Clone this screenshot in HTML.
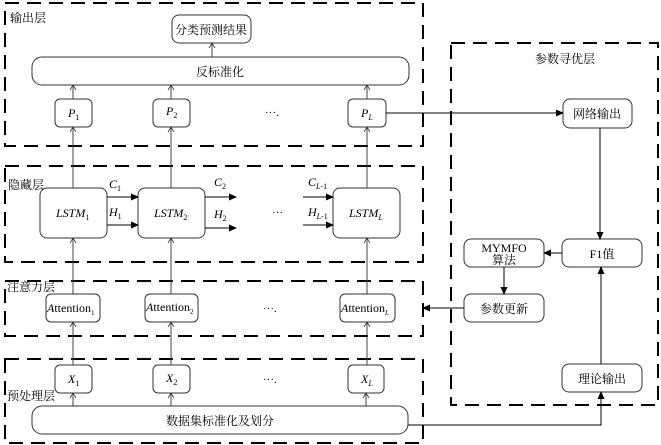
<!DOCTYPE html>
<html><head><meta charset="utf-8"><style>body{margin:0;background:#fff}svg{display:block}text{font-family:"Liberation Serif","Noto Serif CJK SC",serif;fill:#000}</style></head><body>
<svg width="661" height="445" viewBox="0 0 661 445" xmlns="http://www.w3.org/2000/svg">
<defs>
<marker id="a" markerWidth="8" markerHeight="8" refX="7" refY="4" orient="auto" markerUnits="userSpaceOnUse"><path d="M0,0.5 L8,4 L0,7.5z" fill="#000"/></marker>
<marker id="t" markerWidth="8" markerHeight="8" refX="6" refY="4" orient="auto" markerUnits="userSpaceOnUse"><path d="M1,1 L6,4 L1,7" fill="none" stroke="#333" stroke-width="0.8"/></marker>
</defs>
<g fill="none" stroke="#000" stroke-width="2" stroke-dasharray="14,8">
<rect x="5" y="3" width="418" height="143"/>
<rect x="5" y="166" width="418" height="96"/>
<rect x="5" y="281" width="418" height="55"/>
<rect x="5" y="359" width="418" height="84"/>
<rect x="451" y="43" width="207" height="362"/>
</g>
<g fill="#fff" stroke="#333" stroke-width="1">
<rect x="172" y="15" width="79" height="28" rx="7"/>
<rect x="32" y="57" width="377" height="28" rx="10"/>
<rect x="55" y="99" width="37" height="28" rx="5"/>
<rect x="153" y="99" width="37" height="28" rx="5"/>
<rect x="348" y="99" width="38" height="28" rx="5"/>
<rect x="40" y="188" width="67" height="50" rx="7"/>
<rect x="138" y="188" width="67" height="50" rx="7"/>
<rect x="333" y="188" width="67" height="50" rx="7"/>
<rect x="46" y="294" width="54" height="28" rx="5"/>
<rect x="145" y="294" width="53" height="28" rx="5"/>
<rect x="340" y="294" width="55" height="28" rx="5"/>
<rect x="55" y="365" width="37" height="28" rx="5"/>
<rect x="153" y="365" width="37" height="28" rx="5"/>
<rect x="348" y="365" width="36" height="28" rx="5"/>
<rect x="32" y="406" width="376" height="28" rx="10"/>
<rect x="563" y="99" width="69" height="29" rx="7"/>
<rect x="464" y="239" width="80" height="28" rx="7"/>
<rect x="562" y="239" width="80" height="28" rx="7"/>
<rect x="464" y="294" width="80" height="28" rx="7"/>
<rect x="562" y="364" width="80" height="28" rx="7"/>
</g>
<g stroke="#444" stroke-width="1" marker-end="url(#t)">
<line x1="212" y1="57" x2="212" y2="43"/>
<line x1="73" y1="99" x2="73" y2="85"/><line x1="171" y1="99" x2="171" y2="85"/><line x1="367" y1="99" x2="367" y2="85"/>
<line x1="73" y1="188" x2="73" y2="127"/><line x1="171" y1="188" x2="171" y2="127"/><line x1="367" y1="188" x2="367" y2="127"/>
<line x1="73" y1="294" x2="73" y2="238"/><line x1="171" y1="294" x2="171" y2="238"/><line x1="367" y1="294" x2="367" y2="238"/>
<line x1="73" y1="365" x2="73" y2="322"/><line x1="171" y1="365" x2="171" y2="322"/><line x1="367" y1="365" x2="367" y2="322"/>
<line x1="73" y1="406" x2="73" y2="393"/><line x1="171" y1="406" x2="171" y2="393"/><line x1="366" y1="406" x2="366" y2="393"/>
</g>
<g stroke="#000" stroke-width="1" marker-end="url(#a)" fill="none">
<line x1="107" y1="197" x2="138" y2="197"/><line x1="107" y1="225" x2="138" y2="225"/>
<line x1="205" y1="197" x2="236" y2="197"/><line x1="205" y1="228" x2="236" y2="228"/>
<line x1="303" y1="197" x2="333" y2="197"/><line x1="303" y1="225" x2="333" y2="225"/>
<line x1="386" y1="113" x2="563" y2="113"/>
<line x1="600" y1="128" x2="600" y2="239"/>
<line x1="562" y1="253" x2="544" y2="253"/>
<line x1="504" y1="267" x2="504" y2="294"/>
<line x1="464" y1="308" x2="423" y2="308"/>
<line x1="601" y1="364" x2="601" y2="267"/>
<polyline points="408,425 601,425 601,392"/>
</g>
<g font-size="12">
<text x="10" y="22">输出层</text><text x="8" y="189">隐藏层</text><text x="7" y="291">注意力层</text><text x="7" y="400">预处理层</text>
<text x="535" y="63">参数寻优层</text>
<text x="211" y="34" text-anchor="middle">分类预测结果</text>
<text x="220" y="76" text-anchor="middle">反标准化</text>
<text x="220" y="425" text-anchor="middle">数据集标准化及划分</text>
<text x="597" y="118" text-anchor="middle">网络输出</text>
<text x="504" y="252" text-anchor="middle">MYMFO</text><text x="504" y="264" text-anchor="middle">算法</text>
<text x="602" y="258" text-anchor="middle">F1值</text>
<text x="504" y="313" text-anchor="middle">参数更新</text>
<text x="602" y="383" text-anchor="middle">理论输出</text>
</g>
<g font-size="12" font-style="italic">
<text x="68" y="117">P<tspan font-size="8" font-style="normal" dy="3">1</tspan></text>
<text x="166" y="115">P<tspan font-size="8" font-style="normal" dy="3">2</tspan></text>
<text x="361" y="117">P<tspan font-size="8" dy="3">L</tspan></text>
<text x="56" y="217">LSTM<tspan font-size="8" font-style="normal" dy="3">1</tspan></text>
<text x="154" y="217">LSTM<tspan font-size="8" font-style="normal" dy="3">2</tspan></text>
<text x="349" y="217">LSTM<tspan font-size="8" dy="3">L</tspan></text>
<text x="109" y="188">C<tspan font-size="8" font-style="normal" dy="3">1</tspan></text>
<text x="109" y="216">H<tspan font-size="8" font-style="normal" dy="3">1</tspan></text>
<text x="214" y="186">C<tspan font-size="8" font-style="normal" dy="3">2</tspan></text>
<text x="214" y="218">H<tspan font-size="8" font-style="normal" dy="3">2</tspan></text>
<text x="308" y="186">C<tspan font-size="8" dy="3">L</tspan><tspan font-size="8" font-style="normal">-1</tspan></text>
<text x="308" y="216">H<tspan font-size="8" dy="3">L</tspan><tspan font-size="8" font-style="normal">-1</tspan></text>
<text x="47" y="312">A<tspan font-style="normal">ttention</tspan><tspan font-size="7" font-style="normal" dy="3">1</tspan></text>
<text x="146" y="311">A<tspan font-style="normal">ttention</tspan><tspan font-size="7" font-style="normal" dy="3">2</tspan></text>
<text x="341" y="312">A<tspan font-style="normal">ttention</tspan><tspan font-size="7" dy="3">L</tspan></text>
<text x="68" y="383">X<tspan font-size="8" font-style="normal" dy="3">1</tspan></text>
<text x="166" y="382">X<tspan font-size="8" font-style="normal" dy="3">2</tspan></text>
<text x="361" y="383">X<tspan font-size="8" dy="3">L</tspan></text>
</g>
<g font-size="11"><text x="265" y="116">···.</text><text x="272" y="216">···</text><text x="263" y="312">···.</text><text x="263" y="383">···.</text></g>
</svg>
</body></html>
